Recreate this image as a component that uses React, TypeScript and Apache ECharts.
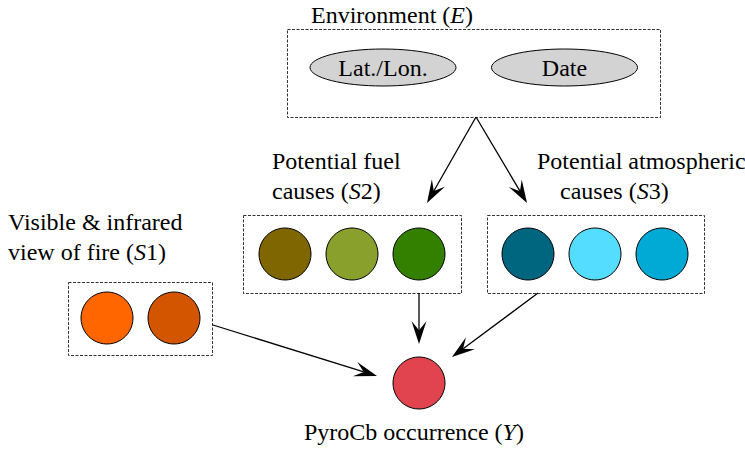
import React, { useEffect, useRef } from "react";
import * as echarts from "echarts";

// ---- content ----
const envTitle = "Environment ({i|E})";
const envNodes = ["Lat./Lon.", "Date"];
const s1Title = ["Visible & infrared", "view of fire ({i|S}1)"];
const s2Title = ["Potential fuel", "causes ({i|S}2)"];
const s3Title = ["Potential atmospheric", "causes ({i|S}3)"];
const outcomeTitle = "PyroCb occurrence ({i|Y})";
const s1Colors = ["#FF6600", "#D45500"];
const s2Colors = ["#806600", "#89A02C", "#338000"];
const s3Colors = ["#006680", "#55DDFF", "#00AAD4"];
const outcomeColor = "#E1434F";
const ellipseColor = "#D3D3D3";

const FAM = "Liberation Serif";
const FS = 24;

function ttl(x: number, y: number, text: string, align = "left") {
  return {
    text,
    left: x,
    top: y - FS / 2,
    padding: 0,
    textAlign: align,
    textStyle: {
      color: "#000",
      fontFamily: FAM,
      fontSize: FS,
      fontWeight: "normal",
      lineHeight: FS,
      rich: {
        i: { fontStyle: "italic", fontFamily: FAM, fontSize: FS, color: "#000", lineHeight: FS },
      },
    },
  };
}

function box(x1: number, y1: number, x2: number, y2: number) {
  return {
    type: "rect",
    shape: { x: x1 + 0.5, y: y1 + 0.5, width: x2 - x1, height: y2 - y1 },
    style: { fill: "none", stroke: "#333", lineWidth: 1, lineDash: [3, 1.5] },
  };
}

function circles(colors: string[], cx0: number, cy: number, step: number, r: number) {
  return colors.map((c, i) => ({
    type: "circle",
    shape: { cx: cx0 + i * step, cy, r },
    style: { fill: c, stroke: "#000", lineWidth: 1 },
  }));
}

function arrow(x1: number, y1: number, x2: number, y2: number) {
  const dx = x2 - x1, dy = y2 - y1;
  const len = Math.sqrt(dx * dx + dy * dy);
  const ux = dx / len, uy = dy / len;
  const nx = -uy, ny = ux;
  const L = 23, W = 7.5, notch = 0.6 * L;
  const bx = x2 - L * ux, by = y2 - L * uy;
  const mx = x2 - notch * ux, my = y2 - notch * uy;
  return [
    {
      type: "line",
      shape: { x1, y1, x2: mx, y2: my },
      style: { stroke: "#000", lineWidth: 1.3 },
    },
    {
      type: "polygon",
      shape: {
        points: [
          [x2, y2],
          [bx + W * nx, by + W * ny],
          [mx, my],
          [bx - W * nx, by - W * ny],
        ],
      },
      style: { fill: "#000", stroke: "none" },
    },
  ];
}

export default function App() {
  const ref = useRef<HTMLDivElement>(null);
  useEffect(() => {
    const chart = echarts.init(ref.current!, undefined, { renderer: "svg" });
    const R = 26;
    const titles = [
      ttl(311, 15, envTitle),
      ...envNodes.map((n, i) => ttl(383 + i * 181.5, 68, n, "center")),
      ttl(272, 161, s2Title[0]),
      ttl(272, 191, s2Title[1]),
      ttl(537, 161, s3Title[0]),
      ttl(560, 191, s3Title[1]),
      ttl(8, 222, s1Title[0]),
      ttl(8, 252, s1Title[1]),
      ttl(304, 432, outcomeTitle),
    ];
    const elements: any[] = [
      box(287, 29, 660, 117),
      ...envNodes.map((n, i) => ({
        type: "ellipse",
        z: -1,
        shape: { cx: 383 + i * 181.5, cy: 67.5, rx: 73, ry: 18.5 },
        style: { fill: ellipseColor, stroke: "#000", lineWidth: 1 },
      })),
      box(68, 282, 212, 355),
      box(243, 215, 461, 293),
      box(487, 215, 704, 293),
      ...circles(s1Colors, 107, 318, 67, R),
      ...circles(s2Colors, 285, 254, 67, R),
      ...circles(s3Colors, 528, 254, 67, R),
      ...circles([outcomeColor], 419, 383, 0, R),
      ...arrow(476, 117, 427, 203),
      ...arrow(476, 117, 527, 203),
      ...arrow(419, 293, 419, 344),
      ...arrow(538, 293, 452, 357),
      ...arrow(213, 325, 377, 376),
    ];
    chart.setOption({
      animation: false,
      backgroundColor: "#fff",
      textStyle: { fontFamily: FAM },
      title: titles,
      graphic: { elements },
    });
    return () => chart.dispose();
  }, []);
  return (
    <div
      ref={ref}
      style={{ position: "absolute", left: 0, top: 0, width: 745, height: 449 }}
    />
  );
}
